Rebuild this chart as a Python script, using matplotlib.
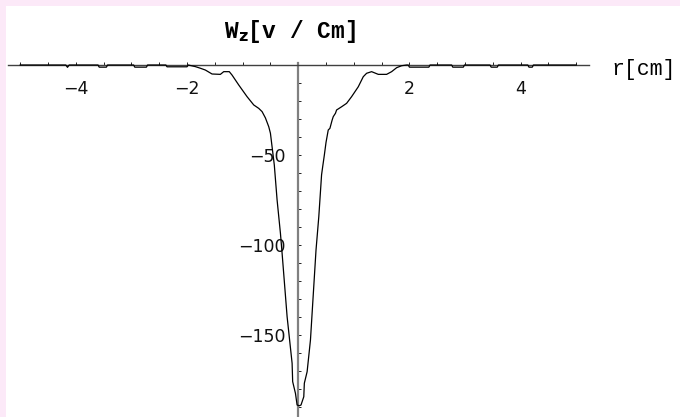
"""
Radial profile of the field component W_z across r, drawn with axes
crossing at the origin.
"""

import numpy as np
import matplotlib
matplotlib.use("Agg")
import matplotlib.pyplot as plt
from matplotlib.patches import Rectangle
from matplotlib.ticker import FixedLocator, NullFormatter

# radius [cm]
r_cm = [
    -5.00, -4.18, -4.15, -4.12, -3.60, -3.58, -3.45, -3.43,
    -2.96, -2.94, -2.73, -2.71, -2.38, -2.36, -2.00, -1.98,
    -1.85, -1.76, -1.67, -1.55, -1.40, -1.34, -1.24, -1.19,
    -1.07, -0.92, -0.80, -0.71, -0.65, -0.59, -0.53, -0.50,
    -0.47, -0.43, -0.38, -0.32, -0.29, -0.20, -0.11, -0.10,
    -0.05, -0.02, 0.02, 0.05, 0.10, 0.11, 0.16, 0.22,
    0.32, 0.37, 0.42, 0.44, 0.47, 0.50, 0.54, 0.57,
    0.61, 0.63, 0.67, 0.69, 0.78, 0.87, 0.96, 1.08,
    1.17, 1.23, 1.32, 1.44, 1.59, 1.68, 1.77, 1.86,
    1.95, 1.98, 2.00, 2.35, 2.37, 2.76, 2.78, 2.97,
    2.99, 3.45, 3.47, 3.58, 3.60, 4.13, 4.15, 4.21,
    4.23, 5.00,
]

# W_z [v/cm]
wz = [
    0.0, 0.0, -1.3, 0.0, 0.0, -1.2, -1.2, 0.0,
    0.0, -1.2, -1.2, 0.0, 0.0, -1.0, -1.0, 0.0,
    -0.9, -1.8, -2.8, -5.0, -5.2, -3.7, -3.7, -5.6,
    -11.1, -17.6, -22.2, -24.1, -25.9, -29.4, -34.3, -37.9,
    -45.5, -55.6, -75.0, -93.5, -104.6, -139.8, -165.7, -175.9,
    -182.4, -188.9, -189.3, -188.9, -184.3, -176.8, -170.4, -152.8,
    -102.8, -84.3, -61.0, -56.5, -50.0, -43.0, -36.1, -35.2,
    -30.6, -28.7, -26.8, -25.0, -23.2, -21.3, -17.6, -12.1,
    -6.5, -4.6, -3.7, -5.2, -5.2, -3.7, -1.5, -0.4,
    0.0, 0.0, -1.2, -1.2, 0.0, 0.0, -1.2, -1.2,
    0.0, 0.0, -1.2, -1.2, 0.0, 0.0, -1.2, -1.2,
    0.0, 0.0,
]

x_major = [-4, -2, 2, 4]
x_minor = [v for v in np.arange(-5.0, 5.01, 0.5) if v not in x_major and v != 0]
y_major = [-150, -100, -50]
y_minor = [v for v in range(-190, 0, 10) if v not in y_major]

W, H = 680, 417
fig = plt.figure(figsize=(W / 100, H / 100), dpi=100)
fig.patch.set_facecolor("#fce9f8")
fig.add_artist(Rectangle((6 / W, 0), 1 - 6 / W, 1 - 6 / H,
                         transform=fig.transFigure, facecolor="white",
                         edgecolor="none", zorder=-10))

ax = fig.add_axes([8 / W, 0, (589 - 8) / W, (H - 63) / H])
ax.set_facecolor("none")
ax.set_xlim(-5.22, 5.23)
ax.set_ylim(-(H - 65) / 1.8, 2 / 1.8)

ax.plot(r_cm, wz, color="black", linewidth=0.9, zorder=3)

# axes through the origin
for side in ("top", "right"):
    ax.spines[side].set_visible(False)
ax.spines["left"].set_position("zero")
ax.spines["bottom"].set_position("zero")
ax.spines["left"].set_color("#808080")
ax.spines["left"].set_linewidth(1.6)
ax.spines["bottom"].set_color("#404040")
ax.spines["bottom"].set_linewidth(1.0)

ax.xaxis.set_major_locator(FixedLocator(x_major))
ax.xaxis.set_minor_locator(FixedLocator(x_minor))
ax.yaxis.set_major_locator(FixedLocator(y_major))
ax.yaxis.set_minor_locator(FixedLocator(y_minor))
ax.xaxis.set_minor_formatter(NullFormatter())
ax.yaxis.set_minor_formatter(NullFormatter())

ax.tick_params(axis="x", which="both", direction="in", length=2.5,
               width=0.7, color="#222222", pad=11, labelsize=12.5)
ax.tick_params(axis="y", which="both", direction="in", length=2.5,
               width=0.7, color="#222222", pad=9, labelsize=12.5)
for lbl in ax.get_xticklabels() + ax.get_yticklabels():
    lbl.set_color("#111111")

fig.text(290 / W, 1 - 38 / H, r"W$_\mathbf{z}$[v / Cm]",
         family="Liberation Mono", fontweight="bold", fontsize=16.5,
         ha="center", va="baseline")
fig.text(611 / W, 1 - 75 / H, "r[cm]", family="Liberation Mono",
         fontsize=15.5, ha="left", va="baseline")

fig.savefig("out.png", dpi=100)
